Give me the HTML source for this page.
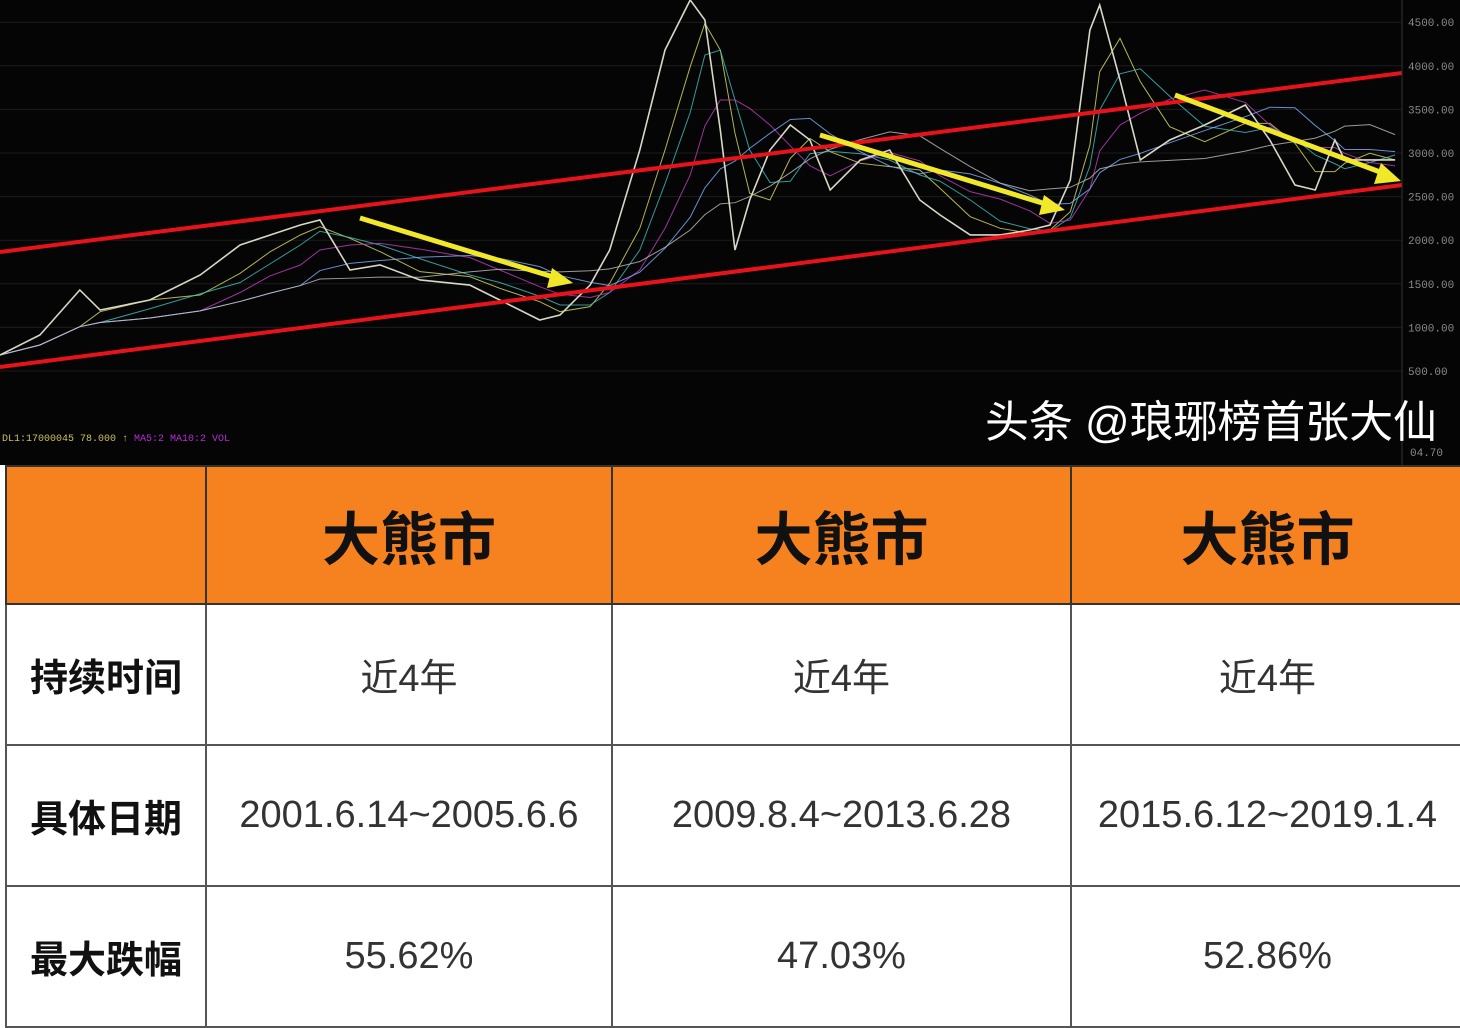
<!DOCTYPE html>
<html><head><meta charset="utf-8">
<style>
html,body{margin:0;padding:0;width:1460px;height:1000px;overflow:hidden;background:#fff;font-family:"Liberation Sans","Noto Sans CJK SC",sans-serif}
#chart{position:absolute;left:0;top:0;width:1460px;height:465px;background:#050505}
table{position:absolute;left:5px;top:465px;border-collapse:collapse;width:1460px}
td{border:2px solid #555;text-align:center;padding:0;color:#333}
tr.h td{background:#f5821f;height:136px;font-weight:bold;font-size:58px;color:#111;border-color:#333}
tr.r td{height:139px;font-size:38px}
td.lab{font-weight:bold;font-size:36px;color:#111;width:198px}
</style></head><body>
<svg id="chart" width="1460" height="465" viewBox="0 0 1460 465">
<g id="grid"></g>
<g id="mas"></g>
<path id="price" fill="none" stroke="#d8d8c8" stroke-width="1.6"/>
<line x1="0" y1="252" x2="1402" y2="73" stroke="#e8121a" stroke-width="4"/>
<line x1="0" y1="367" x2="1402" y2="185" stroke="#e8121a" stroke-width="4"/>
<g fill="#f2e82a" stroke="#f2e82a">
<line x1="360" y1="218" x2="560" y2="279" stroke-width="5"/>
<polygon points="573,283 552,268 547,288" stroke="none"/>
<line x1="820" y1="135" x2="1052" y2="206" stroke-width="5"/>
<polygon points="1065,210 1044,195 1039,215" stroke="none"/>
<line x1="1175" y1="95" x2="1388" y2="175" stroke-width="5"/>
<polygon points="1401,181 1381,163 1374,184" stroke="none"/>
</g>
<line x1="1402" y1="0" x2="1402" y2="465" stroke="#333" stroke-width="1"/>
<g id="ticks" fill="#8a8a8a" font-size="11" font-family="Liberation Mono, monospace"></g>
<text x="2" y="441" fill="#c8c060" font-size="10" font-family="Liberation Mono, monospace">DL1:17000045 78.000 ↑ <tspan fill="#b030d0">MA5:2 MA10:2 VOL</tspan></text>
<text x="1410" y="456" fill="#8a8a8a" font-size="11" font-family="Liberation Mono, monospace">04.70</text>
<text x="985" y="437" fill="#fff" font-size="44" font-family="Liberation Sans, Noto Sans CJK SC, sans-serif" textLength="452">头条 @琅琊榜首张大仙</text>
</svg>
<table>
<tr class="h"><td style="width:198px"></td><td style="width:404px">大熊市</td><td style="width:457px">大熊市</td><td>大熊市</td></tr>
<tr class="r"><td class="lab">持续时间</td><td>近4年</td><td>近4年</td><td>近4年</td></tr>
<tr class="r"><td class="lab">具体日期</td><td>2001.6.14~2005.6.6</td><td>2009.8.4~2013.6.28</td><td>2015.6.12~2019.1.4</td></tr>
<tr class="r"><td class="lab">最大跌幅</td><td>55.62%</td><td>47.03%</td><td>52.86%</td></tr>
</table>
<script>
const years=[1999.5,2000.07,2000.64,2000.93,2001.64,2002.36,2002.93,2003.36,2003.79,2004.07,2004.5,2004.93,2005.5,2006.21,2006.64,2007.21,2007.5,2007.93,2008.21,2008.64,2009.0,2009.36,2009.57,2009.79,2010.0,2010.21,2010.5,2010.79,2011.07,2011.36,2011.79,2012.21,2012.64,2012.93,2013.36,2013.79,2014.21,2014.5,2014.79,2015.07,2015.21,2015.5,2015.79,2016.21,2016.71,2017.29,2017.64,2018.0,2018.29,2018.57,2018.71,2019.07,2019.43];
const prices=[683,913,1429,1199,1314,1601,1945,2060,2174,2232,1658,1716,1544,1486,1314,1085,1142,1486,1888,3034,4181,4755,4525,3264,1888,2461,3034,3321,3149,2576,2920,3034,2461,2289,2060,2060,2117,2174,2690,4410,4697,3837,2920,3149,3321,3550,3149,2633,2576,3149,2920,2920,2920];
const tickVals=[500,1000,1500,2000,2500,3000,3500,4000,4500];
const xS=t=>(t-1999.5)*70;
const yS=v=>371-(v-500)/500*43.6;
const NS="http://www.w3.org/2000/svg";
const grid=document.getElementById('grid'),ticks=document.getElementById('ticks');
tickVals.forEach(v=>{
 const l=document.createElementNS(NS,'line');
 
 
 l.setAttribute('x1',0);l.setAttribute('x2',1402);l.setAttribute('y1',yS(v));l.setAttribute('y2',yS(v));
 l.setAttribute('stroke','#1c1c1c');grid.appendChild(l);
 const t=document.createElementNS(NS,'text');
 
 
 t.setAttribute('x',1408);t.setAttribute('y',yS(v)+4);t.textContent=v+'.00';ticks.appendChild(t);
});
const pts=years.map((t,i)=>[xS(t),yS(prices[i])]);
document.getElementById('price').setAttribute('d','M'+pts.map(p=>p.join(',')).join('L'));
const mas=document.getElementById('mas');
[[2,'#e0e060'],[3,'#40c0c0'],[5,'#c040c0'],[8,'#80b0ff'],[12,'#c0c0c0']].forEach(([n,c])=>{
 const sm=prices.map((_,i)=>{let s=0,k=0;for(let j=Math.max(0,i-n);j<=i;j++){s+=prices[j];k++;}return s/k;});
 const p=document.createElementNS(NS,'path');
 
 
 p.setAttribute('d','M'+years.map((t,i)=>xS(t)+','+yS(sm[i])).join('L'));
 p.setAttribute('fill','none');p.setAttribute('stroke',c);p.setAttribute('stroke-width','1');p.setAttribute('opacity','0.8');
 mas.appendChild(p);
});
</script>
</body></html>
